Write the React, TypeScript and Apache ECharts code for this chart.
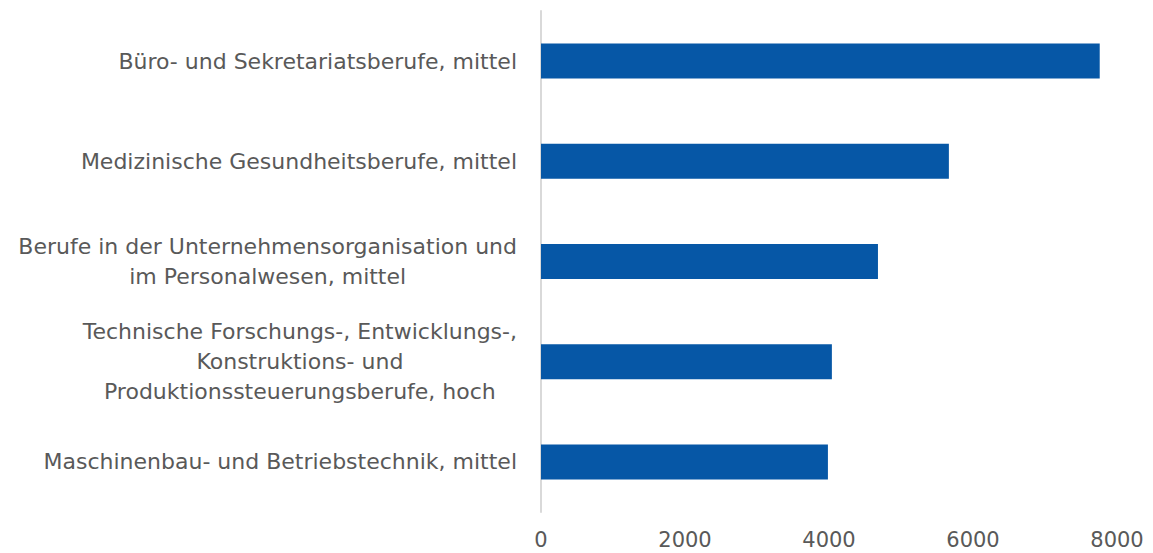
import React, { useEffect, useRef } from "react";
import * as echarts from "echarts";

const categories: string[] = [
  "Büro- und Sekretariatsberufe, mittel",
  "Medizinische Gesundheitsberufe, mittel",
  "Berufe in der Unternehmensorganisation und\nim Personalwesen, mittel",
  "Technische Forschungs-, Entwicklungs-,\nKonstruktions- und\nProduktionssteuerungsberufe, hoch",
  "Maschinenbau- und Betriebstechnik, mittel",
];

const values: number[] = [7760, 5665, 4680, 4040, 3985];

const xTicks = { min: 0, max: 8000, interval: 2000 };

const FONT = "'DejaVu Sans', sans-serif";
const TEXT_COLOR = "#595959";

export default function App() {
  const ref = useRef<HTMLDivElement>(null);

  useEffect(() => {
    if (!ref.current) return;
    const chart = echarts.init(ref.current, null, { renderer: "svg" });
    chart.setOption({
      animation: false,
      backgroundColor: "#ffffff",
      grid: { left: 541, right: 36, top: 11, bottom: 41, containLabel: false },
      xAxis: {
        type: "value",
        min: xTicks.min,
        max: xTicks.max,
        interval: xTicks.interval,
        axisLine: { show: false },
        axisTick: { show: false },
        splitLine: { show: false },
        axisLabel: {
          color: TEXT_COLOR,
          fontSize: 21,
          fontFamily: FONT,
          margin: 17,
          formatter: (v: number) => String(v),
        },
      },
      yAxis: {
        type: "category",
        inverse: true,
        data: categories,
        axisLine: { show: true, lineStyle: { color: "#d9d9d9", width: 2 } },
        axisTick: { show: false },
        splitLine: { show: false },
        axisLabel: {
          margin: 24,
          align: "right",
          color: TEXT_COLOR,
          fontSize: 22,
          fontFamily: FONT,
          lineHeight: 30,
          formatter: (v: string) =>
            v
              .split("\n")
              .map((l) => "{c|" + l + "}")
              .join("\n"),
          rich: {
            c: {
              align: "center",
              color: TEXT_COLOR,
              fontSize: 22,
              fontFamily: FONT,
              lineHeight: 30,
            },
          },
        },
      },
      series: [
        {
          type: "bar",
          data: values,
          barWidth: 35,
          itemStyle: { color: "#0657a6" },
        },
      ],
    });
    return () => chart.dispose();
  }, []);

  return (
    <div
      ref={ref}
      style={{ position: "fixed", left: 0, top: 0, width: 1153, height: 553 }}
    />
  );
}
